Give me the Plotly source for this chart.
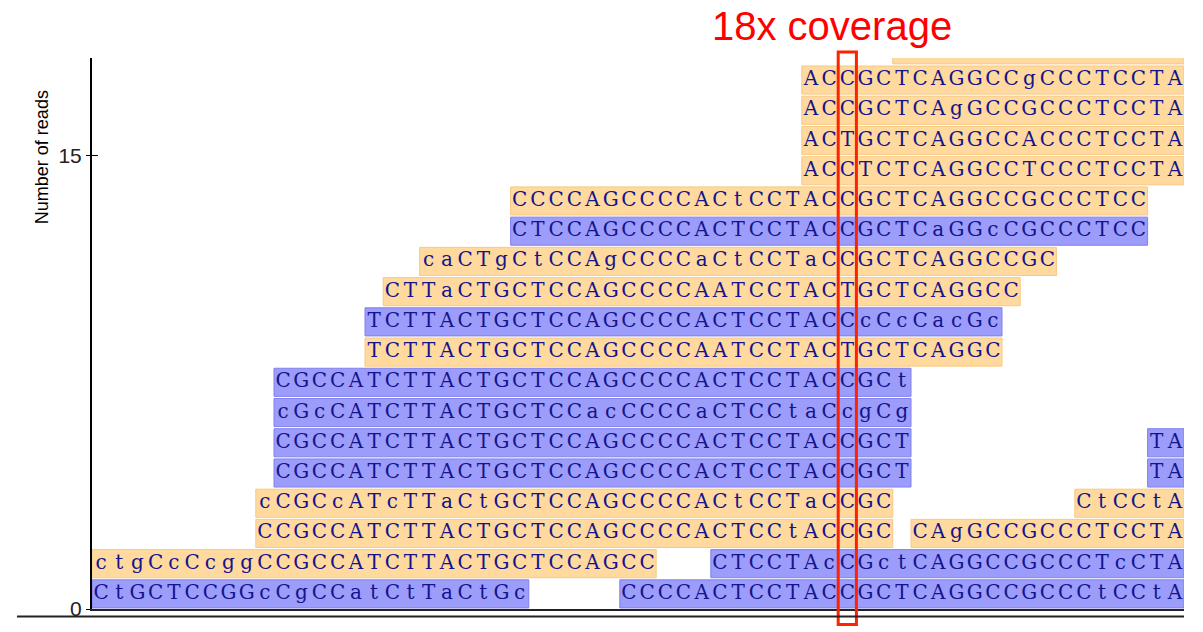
import plotly.graph_objects as go

# Aligned reads: stack row, first aligned column, sequence and strand
read_rows = [0, 0, 1, 1, 2, 2, 3, 3, 4, 4, 5, 5, 6, 7, 8, 9, 10, 11, 12, 13, 14, 15, 16, 17, 18]
read_starts = [0, 29, 0, 34, 9, 45, 9, 54, 10, 58, 10, 58, 10, 10, 15, 15, 16, 18, 23, 23, 39, 39, 39, 39, 44]
read_seqs = [
    "CtGCTCCGGcCgCCatCtTaCtGc",
    "CCCCACTCCTACCGCTCAGGCCGCCCtCCtA",
    "ctgCcCcggCCGCCATCTTACTGCTCCAGCC",
    "CTCCTAcCGctCAGGCCGCCCTcCTA",
    "CCGCCATCTTACTGCTCCAGCCCCACTCCtACCGC",
    "CAgGCCGCCCTCCTA",
    "cCGCcATcTTaCtGCTCCAGCCCCACtCCTaCCGC",
    "CtCCtA",
    "CGCCATCTTACTGCTCCAGCCCCACTCCTACCGCT",
    "TA",
    "CGCCATCTTACTGCTCCAGCCCCACTCCTACCGCT",
    "TA",
    "cGcCATCTTACTGCTCCacCCCCaCTCCtaCcgCg",
    "CGCCATCTTACTGCTCCAGCCCCACTCCTACCGCt",
    "TCTTACTGCTCCAGCCCCAATCCTACTGCTCAGGC",
    "TCTTACTGCTCCAGCCCCACTCCTACCcCcCacGc",
    "CTTaCTGCTCCAGCCCCAATCCTACTGCTCAGGCC",
    "caCTgCtCCAgCCCCaCtCCTaCCGCTCAGGCCGC",
    "CTCCAGCCCCACTCCTACCGCTCaGGcCGCCCTCC",
    "CCCCAGCCCCACtCCTACCGCTCAGGCCGCCCTCC",
    "ACCTCTCAGGCCTCCCTCCTA",
    "ACTGCTCAGGCCACCCTCCTA",
    "ACCGCTCAgGCCGCCCTCCTA",
    "ACCGCTCAGGCCgCCCTCCTA",
    "TCAGGCCGCCCTCCTA",
]
read_strands = ["rev", "rev", "fwd", "rev", "fwd", "fwd", "fwd", "fwd", "rev", "rev",
                "rev", "rev", "rev", "rev", "fwd", "rev", "fwd", "fwd", "rev", "fwd",
                "fwd", "fwd", "fwd", "fwd", "fwd"]

n_columns = 60
highlight_col = 41
coverage_label = "18x coverage"
y_ticks = [0, 15]
y_title = "Number of reads"
y_max = 18.23

fill = {"fwd": "#FFD99E", "rev": "#9C9CFB"}
edge = {"fwd": "#F7C983", "rev": "#8080EE"}

fig = go.Figure()

# one bar trace per strand: every read is a horizontal bar starting at its column
for strand in ["fwd", "rev"]:
    idx = [i for i, s in enumerate(read_strands) if s == strand]
    fig.add_trace(go.Bar(
        orientation="h",
        y=[read_rows[i] + 0.5 for i in idx],
        x=[len(read_seqs[i]) for i in idx],
        base=[read_starts[i] for i in idx],
        width=0.93,
        marker=dict(color=fill[strand], line=dict(color=edge[strand], width=1)),
        hoverinfo="skip",
        showlegend=False,
    ))

# bases, one letter per column
bx, by, bt = [], [], []
for row, start, seq in zip(read_rows, read_starts, read_seqs):
    for k, ch in enumerate(seq):
        bx.append(start + k + 0.5)
        by.append(row + 0.5)
        bt.append(ch)

fig.add_trace(go.Scatter(
    x=bx, y=by, text=bt, mode="text",
    textfont=dict(family="DejaVu Serif", size=20, color="#14148C"),
    textposition="middle center",
    hoverinfo="skip", showlegend=False,
))

# inner half of the y ticks, on an overlaid copy of the axis
fig.add_trace(go.Scatter(x=[None], y=[None], yaxis="y2", showlegend=False, hoverinfo="skip"))

# highlighted column
fig.add_shape(type="rect", xref="x", yref="paper",
              x0=highlight_col, x1=highlight_col + 1, y0=-0.028, y1=1.011,
              line=dict(color="#FF2200", width=3), fillcolor="rgba(0,0,0,0)", layer="above")

# lower baseline
fig.add_shape(type="line", xref="paper", yref="paper",
              x0=-0.0687, x1=1.0, y0=-0.0135, y1=-0.0135,
              line=dict(color="#222222", width=2))

fig.add_annotation(text=coverage_label, xref="x", yref="paper",
                   x=highlight_col + 0.5, xshift=-15, y=1.0576, yanchor="middle",
                   showarrow=False,
                   font=dict(family="Liberation Sans, Arial", size=40, color="#FF0000"))

fig.add_annotation(text=y_title, xref="paper", yref="paper",
                   x=-0.0458, y=0.82, xanchor="center", yanchor="middle",
                   textangle=-90, showarrow=False,
                   font=dict(family="Liberation Sans, Arial", size=18, color="#000000"))

fig.update_layout(
    width=1203, height=632,
    margin=dict(l=92, r=19, t=58, b=18, pad=0),
    paper_bgcolor="white", plot_bgcolor="white",
    barmode="overlay",
    xaxis=dict(range=[0, n_columns], showgrid=False, zeroline=False,
               showticklabels=False, ticks="", showline=True,
               linecolor="#222222", linewidth=2),
    yaxis=dict(range=[0, y_max], tickvals=y_ticks, ticks="outside", ticklen=4,
               tickcolor="#000000", showgrid=False, zeroline=False,
               showline=True, linecolor="#000000", linewidth=2,
               tickfont=dict(family="Liberation Sans, Arial", size=21, color="#222222")),
    yaxis2=dict(range=[0, y_max], tickvals=y_ticks, ticks="inside", ticklen=6,
                tickcolor="#000000", overlaying="y", side="left",
                showticklabels=False, showgrid=False, zeroline=False, showline=False),
)

fig.write_html("out.html")
